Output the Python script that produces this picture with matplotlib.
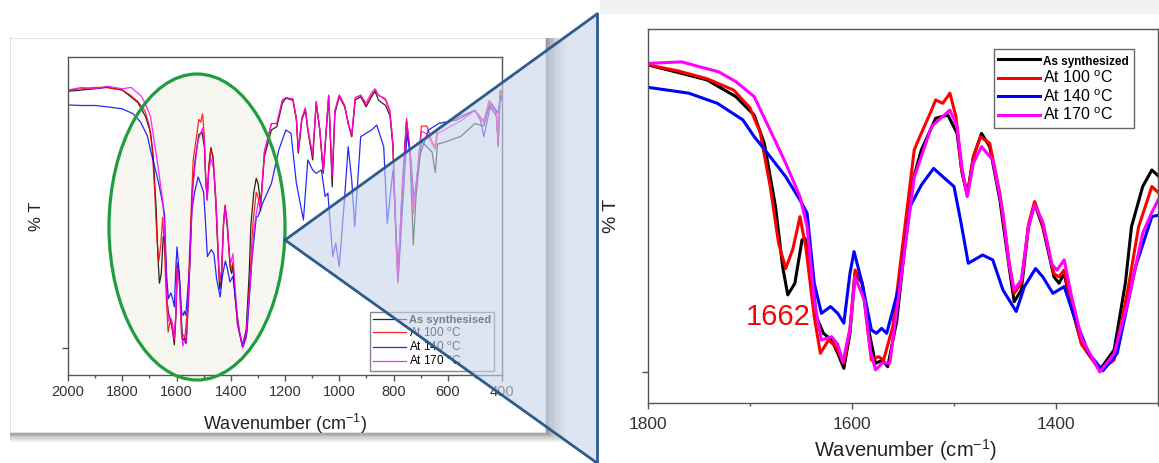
import matplotlib.pyplot as plt
from matplotlib.patches import Rectangle, Ellipse, Polygon
from matplotlib.ticker import MultipleLocator

plt.rcParams['font.family'] = ['Liberation Sans', 'DejaVu Sans']
plt.rcParams['mathtext.default'] = 'regular'

# (wavenumber, relative %T)
black = [(2000, 0.995), (1950, 1.0), (1900, 1.005), (1856, 1.01), (1800, 1.0), (1770, 0.975),
         (1742, 0.951), (1714, 0.897), (1696, 0.837), (1686, 0.745), (1675, 0.539), (1668, 0.343),
         (1663, 0.251), (1656, 0.289), (1649, 0.43), (1646, 0.435), (1640, 0.343), (1635, 0.18),
         (1628, 0.126), (1620, 0.104), (1614, 0.061), (1608, 0.012), (1602, 0.126), (1597, 0.321),
         (1590, 0.289), (1583, 0.126), (1577, 0.028), (1570, 0.039), (1565, 0.017), (1556, 0.169),
         (1549, 0.387), (1542, 0.604), (1532, 0.723), (1518, 0.826), (1506, 0.837), (1497, 0.777),
         (1492, 0.647), (1487, 0.577), (1481, 0.701), (1473, 0.777), (1465, 0.734), (1455, 0.56),
         (1446, 0.343), (1441, 0.229), (1434, 0.267), (1427, 0.473), (1421, 0.549), (1413, 0.473),
         (1402, 0.31), (1397, 0.289), (1392, 0.321), (1385, 0.213), (1375, 0.093), (1357, 0.007),
         (1343, 0.072), (1332, 0.289), (1326, 0.473), (1315, 0.604), (1306, 0.658), (1299, 0.636),
         (1290, 0.56), (1276, 0.742), (1250, 0.845), (1230, 0.858), (1210, 0.948), (1197, 0.968),
         (1171, 0.961), (1158, 0.884), (1151, 0.755), (1138, 0.884), (1125, 0.922), (1116, 0.845),
         (1098, 0.729), (1085, 0.948), (1072, 0.845), (1059, 0.677), (1039, 0.974), (1026, 0.625),
         (1016, 0.91), (1000, 0.974), (980, 0.935), (967, 0.871), (954, 0.819), (941, 0.961),
         (921, 0.974), (901, 0.935), (881, 0.974), (868, 0.995), (855, 0.96), (829, 0.94),
         (813, 0.9), (802, 0.78), (792, 0.457), (784, 0.258), (769, 0.587), (752, 0.88),
         (739, 0.755), (727, 0.4), (717, 0.587), (697, 0.8), (677, 0.78), (658, 0.76),
         (646, 0.68), (638, 0.79), (605, 0.8), (552, 0.82), (500, 0.87), (467, 0.86),
         (447, 0.94), (421, 0.9), (414, 0.78), (407, 0.98), (400, 0.97)]

red = [(2000, 1.0), (1950, 1.005), (1900, 1.01), (1856, 1.01), (1800, 1.0), (1770, 0.98),
       (1742, 0.955), (1716, 0.918), (1700, 0.86), (1690, 0.78), (1680, 0.6), (1672, 0.42),
       (1665, 0.337), (1658, 0.40), (1651, 0.506), (1645, 0.40), (1637, 0.18), (1631, 0.061),
       (1623, 0.104), (1616, 0.083), (1608, 0.028), (1602, 0.14), (1597, 0.332), (1590, 0.29),
       (1581, 0.039), (1574, 0.05), (1569, 0.039), (1560, 0.148), (1549, 0.45), (1539, 0.723),
       (1535, 0.755), (1522, 0.853), (1518, 0.886), (1511, 0.875), (1504, 0.908), (1498, 0.83),
       (1493, 0.669), (1487, 0.577), (1481, 0.70), (1474, 0.766), (1465, 0.745), (1455, 0.58),
       (1446, 0.36), (1441, 0.256), (1434, 0.29), (1427, 0.48), (1421, 0.555), (1413, 0.48),
       (1402, 0.32), (1397, 0.31), (1392, 0.332), (1385, 0.22), (1375, 0.09), (1357, 0.005),
       (1343, 0.039), (1329, 0.278), (1319, 0.473), (1306, 0.604), (1299, 0.582), (1290, 0.53),
       (1276, 0.76), (1250, 0.87), (1230, 0.87), (1210, 0.96), (1197, 0.97), (1171, 0.965),
       (1158, 0.89), (1151, 0.76), (1138, 0.89), (1125, 0.93), (1116, 0.85), (1098, 0.74),
       (1085, 0.955), (1072, 0.85), (1059, 0.68), (1039, 0.98), (1026, 0.66), (1016, 0.92),
       (1000, 0.98), (980, 0.94), (967, 0.87), (954, 0.82), (941, 0.97), (921, 0.98),
       (901, 0.94), (881, 0.98), (868, 1.0), (855, 0.98), (829, 0.965), (813, 0.92),
       (802, 0.79), (792, 0.46), (784, 0.25), (769, 0.6), (752, 0.89), (739, 0.76),
       (727, 0.52), (717, 0.62), (697, 0.86), (677, 0.86), (658, 0.8), (646, 0.78),
       (638, 0.85), (605, 0.87), (552, 0.9), (500, 0.92), (467, 0.88), (447, 0.96),
       (421, 0.92), (414, 0.79), (407, 1.0), (400, 0.99)]

blue = [(2000, 0.942), (1950, 0.94), (1900, 0.94), (1856, 0.935), (1800, 0.927), (1760, 0.908),
        (1732, 0.875), (1707, 0.821), (1696, 0.767), (1683, 0.713), (1665, 0.636), (1651, 0.56),
        (1644, 0.517), (1637, 0.289), (1630, 0.191), (1621, 0.213), (1614, 0.191), (1608, 0.159),
        (1602, 0.321), (1598, 0.392), (1590, 0.289), (1581, 0.137), (1576, 0.126), (1571, 0.142),
        (1566, 0.126), (1553, 0.289), (1543, 0.539), (1532, 0.609), (1520, 0.663), (1511, 0.636),
        (1500, 0.604), (1493, 0.484), (1486, 0.354), (1472, 0.381), (1462, 0.365), (1452, 0.267),
        (1439, 0.197), (1431, 0.278), (1420, 0.337), (1413, 0.31), (1403, 0.256), (1392, 0.278),
        (1382, 0.18), (1368, 0.061), (1354, 0.004), (1340, 0.061), (1322, 0.343), (1306, 0.506),
        (1299, 0.511), (1283, 0.56), (1250, 0.638), (1223, 0.767), (1197, 0.845), (1178, 0.832),
        (1158, 0.638), (1132, 0.496), (1116, 0.729), (1098, 0.69), (1085, 0.677), (1066, 0.69),
        (1052, 0.587), (1042, 0.6), (1024, 0.354), (1013, 0.406), (1000, 0.315), (980, 0.587),
        (967, 0.78), (954, 0.651), (943, 0.47), (921, 0.819), (881, 0.845), (862, 0.864),
        (836, 0.78), (823, 0.483), (802, 0.69), (782, 0.276), (763, 0.612), (750, 0.832),
        (737, 0.742), (724, 0.574), (704, 0.742), (671, 0.845), (632, 0.871), (566, 0.884),
        (500, 0.922), (480, 0.884), (467, 0.819), (441, 0.948), (414, 0.91), (407, 0.974),
        (400, 0.96)]

magenta = [(2000, 1.0), (1950, 1.01), (1900, 1.005), (1856, 1.015), (1800, 1.005), (1767, 1.01),
           (1745, 0.99), (1731, 0.978), (1714, 0.946), (1696, 0.897), (1682, 0.8), (1665, 0.68),
           (1651, 0.571), (1644, 0.473), (1637, 0.234), (1630, 0.104), (1620, 0.115), (1614, 0.09),
           (1609, 0.033), (1602, 0.14), (1597, 0.31), (1588, 0.234), (1582, 0.07), (1577, 0.007),
           (1570, 0.03), (1563, 0.028), (1553, 0.278), (1539, 0.634), (1522, 0.8), (1504, 0.853),
           (1497, 0.8), (1492, 0.66), (1487, 0.571), (1481, 0.68), (1473, 0.734), (1462, 0.69),
           (1452, 0.52), (1446, 0.35), (1441, 0.267), (1434, 0.3), (1427, 0.47), (1421, 0.544),
           (1413, 0.49), (1404, 0.35), (1399, 0.332), (1392, 0.365), (1385, 0.25), (1375, 0.11),
           (1357, 0.0), (1343, 0.06), (1329, 0.234), (1315, 0.452), (1306, 0.52), (1299, 0.566),
           (1290, 0.55), (1276, 0.76), (1250, 0.87), (1230, 0.87), (1210, 0.96), (1197, 0.97),
           (1171, 0.965), (1158, 0.89), (1151, 0.77), (1138, 0.89), (1125, 0.93), (1116, 0.85),
           (1098, 0.75), (1085, 0.955), (1072, 0.85), (1059, 0.69), (1039, 0.98), (1026, 0.67),
           (1016, 0.92), (1000, 0.98), (980, 0.94), (967, 0.87), (954, 0.83), (941, 0.97),
           (921, 0.98), (901, 0.95), (881, 0.99), (868, 1.005), (855, 0.98), (829, 0.96),
           (813, 0.91), (802, 0.79), (792, 0.47), (784, 0.27), (769, 0.6), (752, 0.88),
           (739, 0.77), (727, 0.54), (717, 0.63), (697, 0.84), (677, 0.83), (658, 0.79),
           (646, 0.77), (638, 0.83), (605, 0.85), (552, 0.88), (500, 0.92), (467, 0.87),
           (447, 0.95), (421, 0.91), (414, 0.8), (407, 0.99), (400, 0.98)]

series = [black, red, blue, magenta]
colors = ['#000000', '#ff0000', '#0000ff', '#ff00ff']
labels_left = ['As synthesised', 'At 100 $^{o}$C', 'At 140 $^{o}$C', 'At 170 $^{o}$C']
labels_right = ['As synthesized', 'At 100 $^{o}$C', 'At 140 $^{o}$C', 'At 170 $^{o}$C']

W, H = 1159, 463


def box(x0, y0, x1, y1):
    return [x0 / W, 1 - y1 / H, (x1 - x0) / W, (y1 - y0) / H]


fig = plt.figure(figsize=(W / 100, H / 100), dpi=100)

# background: cards and shadows, in pixel coordinates
bg = fig.add_axes([0, 0, 1, 1], zorder=0)
bg.set_xlim(0, W)
bg.set_ylim(H, 0)
bg.axis('off')
greys = ['#f4f4f4', '#ececec', '#e0e0e0', '#d4d4d4', '#c6c6c6', '#b8b8b8', '#a8a8a8', '#999999']
for k, g in enumerate(greys):
    s = len(greys) - k
    bg.add_patch(Rectangle((10, 38), 535 + 2.6 * s, 394 + 1.3 * s, color=g, lw=0))
bg.add_patch(Rectangle((10, 38), 535, 394, facecolor='white', edgecolor='#e6e6e6', lw=0.6))
bg.add_patch(Rectangle((600, 0), 559, 14, color='#f1f1f1', lw=0))
bg.add_patch(Rectangle((600, 14), 559, 449, color='white', lw=0))
bg.add_patch(Ellipse((197, 227), 176, 306, facecolor='#f7f6f1', edgecolor='none'))


def style(ax, major, minor, size, pad):
    for sp in ax.spines.values():
        sp.set_color('#555555')
        sp.set_linewidth(1.0)
    ax.xaxis.set_major_locator(MultipleLocator(major))
    ax.xaxis.set_minor_locator(MultipleLocator(minor))
    ax.set_yticks([0])
    ax.set_yticklabels([])
    ax.tick_params(which='major', direction='out', length=4, width=1, color='#555555',
                   labelsize=size, labelcolor='#333333', pad=pad)
    ax.tick_params(which='minor', direction='out', length=2.5, width=1, color='#555555')


# left panel
axL = fig.add_axes(box(68, 57, 502, 375), zorder=1)
axL.set_facecolor('none')
for s, c, lab in zip(series, colors, labels_left):
    axL.plot([p[0] for p in s], [p[1] for p in s], color=c, lw=0.9, alpha=0.85, label=lab)
axL.set_xlim(2000, 400)
axL.set_ylim(-0.105, 1.128)
style(axL, 200, 100, 10.5, 3.5)
axL.set_xlabel('Wavenumber (cm$^{-1}$)', fontsize=13, color='#222222')
axL.xaxis.set_label_coords(0.5, -0.115)
axL.set_ylabel('% T', fontsize=12, color='#222222')
axL.yaxis.set_label_coords(-0.055, 0.5)
legL = axL.legend(loc='upper right', bbox_to_anchor=(0.995, 0.217), fontsize=8.5,
                  fancybox=False, edgecolor='#888888', framealpha=1, handlelength=2.8,
                  borderpad=0.25, labelspacing=0.05, handletextpad=0.2)
legL.get_texts()[0].set_fontweight('bold')
legL.get_texts()[0].set_fontsize(8)

# zoom overlay: ellipse outline and shaded wedge
ov = fig.add_axes([0, 0, 1, 1], zorder=2)
ov.set_xlim(0, W)
ov.set_ylim(H, 0)
ov.axis('off')
ov.patch.set_alpha(0)
ov.add_patch(Polygon([(285, 240), (597, 14), (597, 463)], facecolor='#c5d5e8', alpha=0.6, lw=0))
ov.add_patch(Ellipse((197, 227), 176, 306, fill=False, edgecolor='#1f9d3f', lw=2.3))
ov.plot([285, 597], [240, 14], color='#2d5b8c', lw=2)
ov.plot([285, 597], [240, 463], color='#2d5b8c', lw=2)
ov.plot([597, 597], [14, 463], color='#2d5b8c', lw=2)

# right panel
axR = fig.add_axes(box(648, 29, 1158, 403), zorder=3)
axR.set_facecolor('white')
for s, c, lab in zip(series, colors, labels_right):
    axR.plot([p[0] for p in s], [p[1] for p in s], color=c, lw=2.2, label=lab)
axR.set_xlim(1800, 1300)
axR.set_ylim(-0.101, 1.117)
style(axR, 200, 100, 12.5, 6)
axR.set_xlabel('Wavenumber (cm$^{-1}$)', fontsize=14.5, color='#222222')
axR.xaxis.set_label_coords(0.504, -0.09)
axR.set_ylabel('% T', fontsize=14, color='#222222')
axR.yaxis.set_label_coords(-0.055, 0.5)
axR.text(1672, 0.18, '1662', color='#ff0000', fontsize=21, ha='center', va='center')
legR = axR.legend(loc='upper right', bbox_to_anchor=(0.968, 0.968), fontsize=11.5,
                  fancybox=False, edgecolor='#666666', framealpha=1, handlelength=2.6,
                  borderpad=0.3, labelspacing=0.12, handletextpad=0.2)
legR.get_texts()[0].set_fontweight('bold')
legR.get_texts()[0].set_fontsize(8.5)

fig.savefig('out.png', dpi=100)
